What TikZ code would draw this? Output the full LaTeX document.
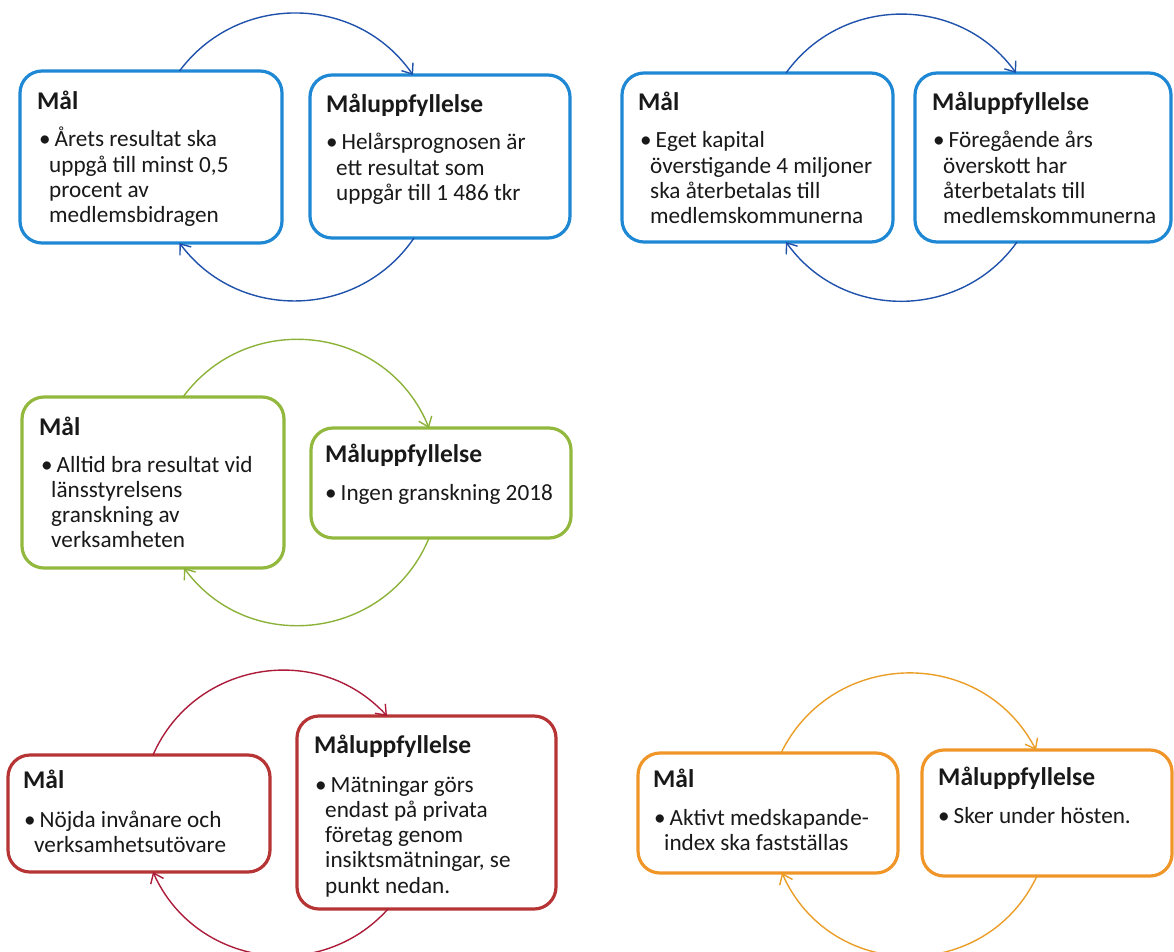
\documentclass[tikz,border=0pt]{standalone}
\usepackage{fontspec}
\setmainfont{Carlito}
\usetikzlibrary{arrows.meta}
\definecolor{bbox}{RGB}{30,136,212}
\definecolor{barc}{RGB}{32,82,172}
\definecolor{gbox}{RGB}{146,184,62}
\definecolor{garc}{RGB}{140,178,58}
\definecolor{rbox}{RGB}{182,52,52}
\definecolor{rarc}{RGB}{172,28,58}
\definecolor{obox}{RGB}{240,150,40}
\definecolor{oarc}{RGB}{234,158,40}
\definecolor{txt}{RGB}{25,25,25}
\newcommand\blt[1]{\hspace*{-10pt}\makebox[15.5pt][l]{\textbullet}#1}
\begin{document}
\begin{tikzpicture}[x=1pt,y=-1pt,
  box/.style={draw=#1, line width=3.2pt, rounded corners=22pt, fill=white, inner sep=0pt, outer sep=0pt},
  ttl/.style={anchor=base west, inner sep=0pt, font=\fontsize{25.5}{30}\selectfont\bfseries, text=txt},
  bod/.style={anchor=base west, inner sep=0pt, font=\fontsize{23.2}{25.3}\selectfont, text=txt},
  cyc/.style={draw=#1, line width=1.4pt, -{Straight Barb[length=9pt,width=14pt]}}
]
\useasboundingbox (0,0) rectangle (1174,952);
\clip (0,0) rectangle (1174,952);

% ---------- Diagram 1 (blue) ----------
\node[box=bbox, minimum width=262pt, minimum height=172pt] (L1) at (151,157) {};
\node[box=bbox, minimum width=260pt, minimum height=163pt] (R1) at (440,156.5) {};
\node[ttl] (L1t) at (37,110) {Mål};
\node[bod] (L1b) at (49,147) {\parbox[t]{300pt}{\blt{Årets resultat ska}\\uppgå till minst 0,5\\procent av\\medlemsbidragen}};
\node[ttl] (R1t) at (326,113) {Måluppfyllelse};
\node[bod] (R1b) at (336,150) {\parbox[t]{300pt}{\blt{Helårsprognosen är}\\ett resultat som\\uppgår till 1 486 tkr}};
\draw[cyc=barc] ([xshift=28.5pt]L1.north) to[bend left=54.3, looseness=1.075] ([xshift=-27pt]R1.north);
\draw[cyc=barc] ([xshift=-26pt]R1.south) to[bend left=54.5, looseness=1.075] ([xshift=28.5pt]L1.south);

% ---------- Diagram 2 (blue) ----------
\node[box=bbox, minimum width=271pt, minimum height=169pt] (L2) at (757.5,157.5) {};
\node[box=bbox, minimum width=256pt, minimum height=169pt] (R2) at (1043,157.5) {};
\node[ttl] (L2t) at (638,111) {Mål};
\node[bod] (L2b) at (650,148) {\parbox[t]{300pt}{\blt{Eget kapital}\\överstigande 4 miljoner\\ska återbetalas till\\medlemskommunerna}};
\node[ttl] (R2t) at (932,111) {Måluppfyllelse};
\node[bod] (R2b) at (943,148) {\parbox[t]{300pt}{\blt{Föregående års}\\överskott har\\återbetalats till\\medlemskommunerna}};
\draw[cyc=barc] ([xshift=28.5pt]L2.north) to[bend left=54.3, looseness=1.075] ([xshift=-27pt]R2.north);
\draw[cyc=barc] ([xshift=-26pt]R2.south) to[bend left=54.5, looseness=1.075] ([xshift=28.5pt]L2.south);

% ---------- Diagram 3 (green) ----------
\node[box=gbox, minimum width=262pt, minimum height=171pt] (L3) at (153,482.5) {};
\node[box=gbox, minimum width=260pt, minimum height=110pt] (R3) at (441,483) {};
\node[ttl] (L3t) at (39,435) {Mål};
\node[bod] (L3b) at (51,472) {\parbox[t]{300pt}{\blt{Alltid bra resultat vid}\\länsstyrelsens\\granskning av\\verksamheten}};
\node[ttl] (R3t) at (325,462) {Måluppfyllelse};
\node[bod] (R3b) at (335,500) {\parbox[t]{300pt}{\blt{Ingen granskning 2018}}};
\draw[cyc=garc] ([xshift=30pt]L3.north) to[bend left=60.7, looseness=1.142] ([xshift=-12pt]R3.north);
\draw[cyc=garc] ([xshift=-12pt]R3.south) to[bend left=60.7, looseness=1.142] ([xshift=31pt]L3.south);

% ---------- Diagram 4 (red) ----------
\node[box=rbox, minimum width=262pt, minimum height=117pt] (L4) at (139,813.5) {};
\node[box=rbox, minimum width=259pt, minimum height=193pt] (R4) at (426.5,812.5) {};
\node[ttl] (L4t) at (23,788) {Mål};
\node[bod] (L4b) at (34,827) {\parbox[t]{300pt}{\blt{Nöjda invånare och}\\verksamhetsutövare}};
\node[ttl] (R4t) at (314,753) {Måluppfyllelse};
\node[bod] (R4b) at (325,792) {\parbox[t]{300pt}{\blt{Mätningar görs}\\endast på privata\\företag genom\\insiktsmätningar, se\\punkt nedan.}};
\draw[cyc=rarc] ([xshift=14pt]L4.north) to[bend left=56.9, looseness=1.10] ([xshift=-39.5pt]R4.north);
\draw[cyc=rarc] ([xshift=-38.5pt]R4.south) to[bend left=57, looseness=1.10] ([xshift=14pt]L4.south);

% ---------- Diagram 5 (orange) ----------
\node[box=obox, minimum width=260pt, minimum height=120pt] (L5) at (768,813) {};
\node[box=obox, minimum width=250pt, minimum height=126pt] (R5) at (1047,813) {};
\node[ttl] (L5t) at (653,787) {Mål};
\node[bod] (L5b) at (664,825) {\parbox[t]{300pt}{\blt{Aktivt medskapande-}\\index ska fastställas}};
\node[ttl] (R5t) at (938,785) {Måluppfyllelse};
\node[bod] (R5b) at (948,823) {\parbox[t]{300pt}{\blt{Sker under hösten.}}};
\draw[cyc=oarc] ([xshift=13pt]L5.north) to[bend left=63.2, looseness=1.173] ([xshift=-11pt]R5.north);
\draw[cyc=oarc] ([xshift=-10pt]R5.south) to[bend left=65.4, looseness=1.2] ([xshift=14pt]L5.south);
\end{tikzpicture}
\end{document}
